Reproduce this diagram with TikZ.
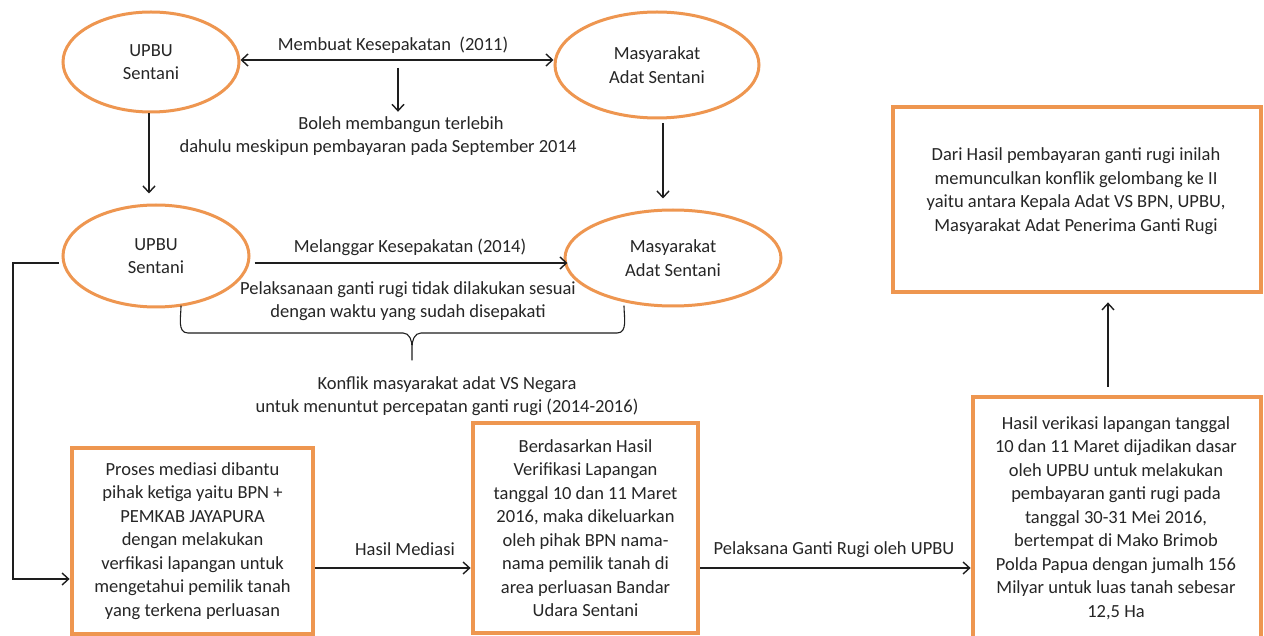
\documentclass[tikz,border=0pt]{standalone}
\usepackage{fontspec}
\setmainfont{Carlito}
\usetikzlibrary{arrows.meta,shapes.geometric}
\definecolor{org}{HTML}{EE9650}
\definecolor{txtc}{HTML}{262626}
\definecolor{lnc}{HTML}{1E1E1E}
\tikzset{myhd/.tip={Straight Barb[length=6.5pt,width=12pt]}}
\begin{document}
\begin{tikzpicture}[x=1pt,y=-1pt,
  every node/.style={font=\fontsize{18.5}{23.5}\selectfont, text=txtc, align=center, inner sep=0pt},
  ell/.style={ellipse, draw=org, line width=3pt},
  box/.style={rectangle, draw=org, line width=4.8pt},
  plain/.style={draw=lnc, line width=1.4pt},
  conn/.style={plain, -myhd}]
\useasboundingbox (0,0) rectangle (1264,636);
\fill[white] (0,0) rectangle (1264,636);

% ellipses
\node[ell, minimum width=176pt, minimum height=100pt] (e1) at (151,62) {UPBU\\Sentani};
\node[ell, minimum width=204pt, minimum height=106pt] (e2) at (657,65) {Masyarakat\\Adat Sentani};
\node[ell, minimum width=186pt, minimum height=102pt] (e3) at (156,256) {UPBU\\Sentani};
\node[ell, minimum width=216pt, minimum height=96pt] (e4) at (673,258) {Masyarakat\\Adat Sentani};

% boxes
\node[box, minimum width=241pt, minimum height=186pt] (box1) at (192.5,541)
  {Proses mediasi dibantu\\pihak ketiga yaitu BPN +\\PEMKAB JAYAPURA\\dengan melakukan\\verfikasi lapangan untuk\\mengetahui pemilik tanah\\yang terkena perluasan};
\node[box, minimum width=225pt, minimum height=210pt] (box2) at (585.5,528)
  {Berdasarkan Hasil\\Verifikasi Lapangan\\tanggal 10 dan 11 Maret\\2016, maka dikeluarkan\\oleh pihak BPN nama-\\nama pemilik tanah di\\area perluasan Bandar\\Udara Sentani};
\node[box, minimum width=288pt, minimum height=263pt] (box3) at (1117,528.5) {};
\node (t3) at (1116,518)
  {Hasil verikasi lapangan tanggal\\10 dan 11 Maret dijadikan dasar\\oleh UPBU untuk melakukan\\pembayaran ganti rugi pada\\tanggal 30-31 Mei 2016,\\bertempat di Mako Brimob\\Polda Papua dengan jumalh 156\\Milyar untuk luas tanah sebesar\\12,5 Ha};
\node[box, minimum width=368pt, minimum height=185pt] (box4) at (1077,199.5) {};
\node (t4) at (1076,191)
  {Dari Hasil pembayaran ganti rugi inilah\\memunculkan konflik gelombang ke II\\yaitu antara Kepala Adat VS BPN, UPBU,\\Masyarakat Adat Penerima Ganti Rugi};

% labels and free texts
\node (lbl1) at (393,45) {Membuat Kesepakatan~~(2011)};
\node (boleh1) at (401,125) {Boleh membangun terlebih};
\node (boleh2) at (378,148) {dahulu meskipun pembayaran pada September 2014};
\node (lbl2) at (410,247) {Melanggar Kesepakatan (2014)};
\node (pel) at (408,301) {Pelaksanaan ganti rugi tidak dilakukan sesuai\\dengan waktu yang sudah disepakati};
\node (konf) at (447,396) {Konflik masyarakat adat VS Negara\\untuk menuntut percepatan ganti rugi (2014-2016)};
\node (lbl3) at (405,549) {Hasil Mediasi};
\node (lbl4) at (834,550) {Pelaksana Ganti Rugi oleh UPBU};

% connectors
\draw[plain, myhd-myhd] ([yshift=2pt]e1.east) -- ([yshift=2pt]e1.east -| e2.west);
\coordinate (d1) at (398,68);
\draw[conn, shorten >=5pt] (d1) -- (d1 |- boleh1.north);
\draw[conn, shorten >=10pt] ([xshift=-2pt]e1.south) -- ([xshift=-2pt]e1.south |- e3.north);
\draw[conn, shorten <=4pt, shorten >=10pt] ([xshift=6pt]e2.south) -- ([xshift=6pt]e2.south |- e4.north);
\draw[conn] ([shift={(4,7)}]e3.east) -- ([shift={(4,7)}]e3.east -| e4.west);
\coordinate (lc) at (13,579);
\draw[conn] ([shift={(-3,7)}]e3.west) -| (lc) -- (lc -| box1.west);
\coordinate (hm) at (0,568);
\draw[conn] (box1.east |- hm) -- (box2.west |- hm);
\draw[conn] (box2.east |- hm) -- (box3.west |- hm);
\coordinate (ux) at (1108,0);
\draw[conn, shorten <=8pt, shorten >=8pt] (ux |- box3.north) -- (ux |- box4.south);

% brace
\coordinate (bl) at (181,306);
\coordinate (br) at (624,306);
\coordinate (bt) at (412,360);
\draw[plain, line width=1.1pt, line cap=round]
  (bl) to[out=-90,in=180] (188,333) -- (403,333) to[out=0,in=90] (bt |- 0,347) -- (bt)
  (bt |- 0,347) to[out=90,in=180] (421,333) -- (617,333) to[out=0,in=-90] (br);
\end{tikzpicture}
\end{document}
